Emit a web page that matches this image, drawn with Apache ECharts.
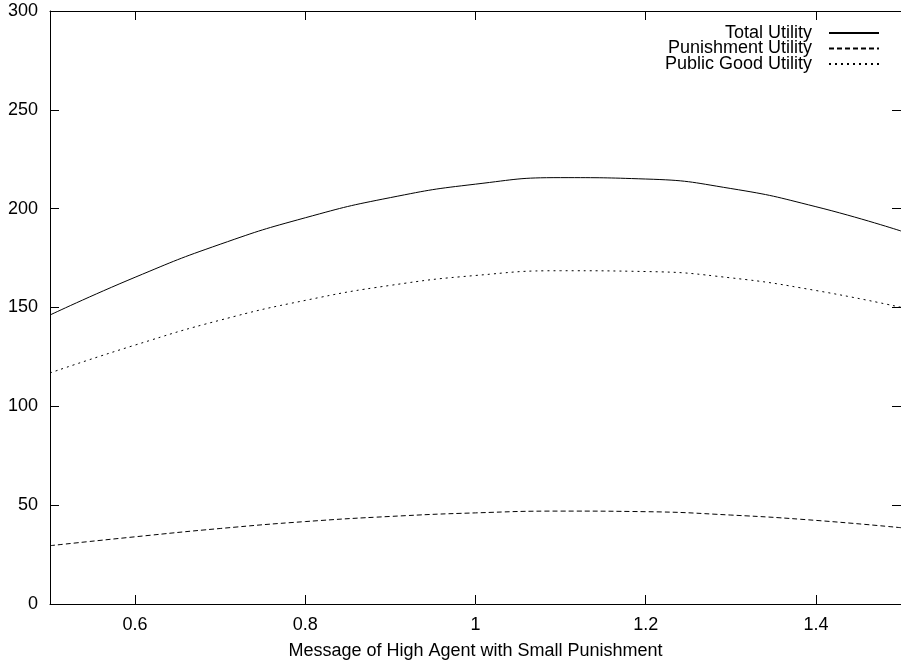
<!DOCTYPE html>
<html>
<head>
<meta charset="utf-8">
<script src="https://cdn.jsdelivr.net/npm/echarts@6/dist/echarts.min.js"></script>
<style>
  html, body { margin: 0; padding: 0; background: #fff; }
  #chart { width: 901px; height: 668px; }
</style>
</head>
<body>
<div id="chart"></div>
<script>
// values
var messages = [0.5, 0.6, 0.7, 0.8, 0.9, 1.0, 1.1, 1.2, 1.3, 1.4, 1.5];
var totalUtility = [146.2, 165.3, 182.0, 195.4, 205.6, 212.4, 215.7, 215.0, 210.2, 201.0, 188.7];
var punishmentUtility = [29.5, 34.0, 38.2, 41.7, 44.3, 46.1, 47.0, 46.7, 45.0, 42.3, 38.6];
var publicGoodUtility = [116.9, 131.0, 143.6, 153.6, 161.2, 166.2, 168.6, 168.2, 165.0, 158.6, 150.1];
var xTicks = [0.6, 0.8, 1, 1.2, 1.4];

var font = "Liberation Sans";

function pairs(ys) {
  return messages.map(function (x, i) { return [x, ys[i]]; });
}

function line(name, ys, dash) {
  return {
    name: name,
    type: "line",
    data: pairs(ys),
    smooth: true,
    symbol: "none",
    lineStyle: { color: "#000", width: 1, type: dash },
    itemStyle: { color: "#000" }
  };
}

var myChart = echarts.init(document.getElementById("chart"));

var frameLine = { show: true, onZero: false, lineStyle: { color: "#000", width: 1 } };
var tick = { show: true, inside: true, length: 9, lineStyle: { color: "#000" } };

myChart.setOption({
  animation: false,
  textStyle: { fontFamily: font, color: "#000" },
  grid: { left: 50, top: 11, right: -1, bottom: 64 },
  legend: {
    orient: "vertical",
    right: 16,
    top: 19,
    align: "right",
    itemWidth: 50,
    itemHeight: 12,
    itemGap: -2.5,
    itemStyle: { opacity: 0 },
    textStyle: { fontFamily: font, fontSize: 18, color: "#000", padding: [0, 12, 0, 0] },
    data: ["Total Utility", "Punishment Utility", "Public Good Utility"]
  },
  xAxis: [
    {
      type: "value",
      min: 0.5,
      max: 1.5,
      name: "Message of High Agent with Small Punishment",
      nameLocation: "middle",
      nameGap: 38,
      nameTextStyle: { fontFamily: font, fontSize: 18, color: "#000" },
      axisLine: frameLine,
      axisTick: Object.assign({ customValues: xTicks }, tick),
      axisLabel: { customValues: xTicks, fontFamily: font, fontSize: 18, color: "#000", margin: 12 },
      splitLine: { show: false }
    },
    {
      type: "value",
      position: "top",
      min: 0.5,
      max: 1.5,
      axisLine: frameLine,
      axisTick: Object.assign({ customValues: xTicks }, tick),
      axisLabel: { show: false },
      splitLine: { show: false }
    }
  ],
  yAxis: [
    {
      type: "value",
      min: 0,
      max: 300,
      interval: 50,
      axisLine: frameLine,
      axisTick: tick,
      axisLabel: { fontFamily: font, fontSize: 18, color: "#000", margin: 12 },
      splitLine: { show: false }
    },
    {
      type: "value",
      position: "right",
      min: 0,
      max: 300,
      interval: 50,
      axisLine: frameLine,
      axisTick: tick,
      axisLabel: { show: false },
      splitLine: { show: false }
    }
  ],
  series: [
    line("Total Utility", totalUtility, "solid"),
    line("Punishment Utility", punishmentUtility, [5, 3]),
    line("Public Good Utility", publicGoodUtility, [2, 4])
  ]
});
</script>
</body>
</html>
